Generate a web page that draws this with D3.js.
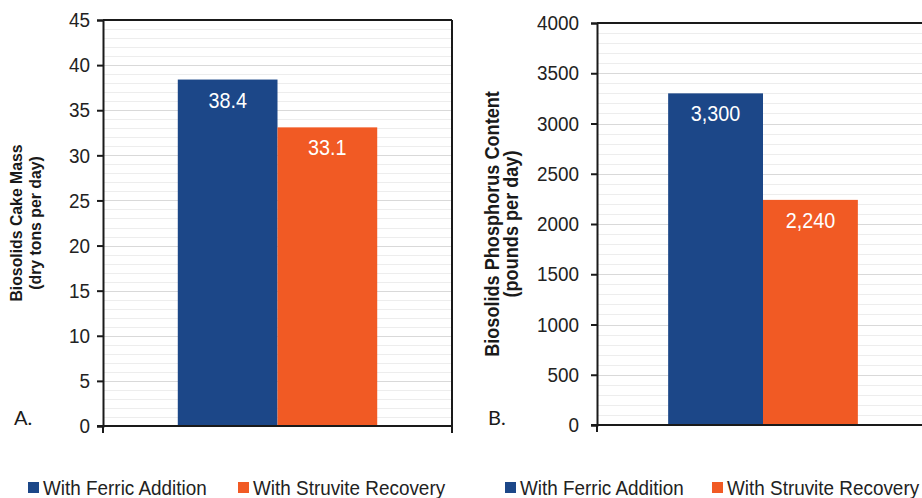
<!DOCTYPE html>
<html>
<head>
<meta charset="utf-8">
<script src="https://cdn.jsdelivr.net/npm/d3@7"></script>
<style>
  html, body { margin: 0; padding: 0; background: #fff; }
  svg { display: block; font-family: "Liberation Sans", Arial, sans-serif; }
</style>
</head>
<body>
<svg id="chart" width="922" height="498"></svg>
<script>
// Series shown in both panels
const seriesNames = ["With Ferric Addition", "With Struvite Recovery"];
const seriesColors = ["#1c4788", "#f15a24"];

// Panel A: biosolids cake mass (dry tons per day)
const cakeMass = [38.4, 33.1];
const cakeTicks = [0, 5, 10, 15, 20, 25, 30, 35, 40, 45];
const cakeLabels = ["38.4", "33.1"];

// Panel B: biosolids phosphorus content (pounds per day)
const phosphorus = [3300, 2240];
const phosphorusTicks = [0, 500, 1000, 1500, 2000, 2500, 3000, 3500, 4000];
const phosphorusLabels = ["3,300", "2,240"];

const svg = d3.select("#chart");

// Narrow the text horizontally around its anchor point (condensed look)
function squeeze(sel, s) {
  sel.each(function () {
    const t = d3.select(this);
    const x = +t.attr("x") || 0;
    const y = +t.attr("y") || 0;
    t.attr("x", 0).attr("y", 0)
     .attr("transform", `translate(${x},${y}) scale(${s},1)`);
  });
}

function panel(cfg) {
  const g = svg.append("g");
  const { x0, x1, y0, y1 } = cfg.plot;

  const y = d3.scaleLinear().domain([0, cfg.max]).range([y0, y1]);
  // single category group, Excel-style gap width of 150%
  const outer = d3.scaleBand().domain(["all"]).range([x0, x1])
    .paddingInner(0).paddingOuter(0.375);
  const inner = d3.scaleBand().domain(d3.range(cfg.values.length))
    .range([0, outer.bandwidth()]).padding(0);

  // minor gridlines
  const minor = d3.range(0, cfg.max + 1e-9, cfg.minorStep)
    .filter(v => !cfg.ticks.includes(v));
  g.append("g").selectAll("line").data(minor).join("line")
    .attr("x1", x0).attr("x2", x1)
    .attr("y1", d => Math.round(y(d)) + 0.5).attr("y2", d => Math.round(y(d)) + 0.5)
    .attr("stroke", "#ededed").attr("stroke-width", 1);

  // major gridlines
  g.append("g").selectAll("line").data(cfg.ticks.filter(v => v > 0 && v < cfg.max)).join("line")
    .attr("x1", x0).attr("x2", x1)
    .attr("y1", d => Math.round(y(d)) + 0.5).attr("y2", d => Math.round(y(d)) + 0.5)
    .attr("stroke", "#d9d9d9").attr("stroke-width", 1.2);

  // bars
  g.append("g").selectAll("rect").data(cfg.values).join("rect")
    .attr("x", (d, i) => outer("all") + inner(i))
    .attr("width", inner.bandwidth())
    .attr("y", d => y(d))
    .attr("height", d => y(0) - y(d))
    .attr("fill", (d, i) => seriesColors[i]);

  // value labels
  const vl = g.append("g").selectAll("text").data(cfg.values).join("text")
    .attr("x", (d, i) => outer("all") + inner(i) + inner.bandwidth() / 2)
    .attr("y", d => y(d) + 28)
    .attr("text-anchor", "middle")
    .attr("font-size", 22)
    .attr("fill", "#ffffff")
    .text((d, i) => cfg.labels[i]);
  squeeze(vl, 0.9);

  // frame: top and right borders
  g.append("line").attr("x1", x0).attr("x2", x1).attr("y1", y1).attr("y2", y1)
    .attr("stroke", "#1a1a1a").attr("stroke-width", 2);
  g.append("line").attr("x1", x1).attr("x2", x1).attr("y1", y1).attr("y2", y0 + 7)
    .attr("stroke", "#1a1a1a").attr("stroke-width", 2);

  // y axis
  const yAxis = d3.axisLeft(y).tickValues(cfg.ticks).tickSize(6).tickPadding(cfg.tickPad)
    .tickFormat(d3.format("d"));
  const ya = g.append("g").attr("transform", `translate(${x0},0)`).call(yAxis);
  ya.select(".domain").attr("stroke", "#1a1a1a").attr("stroke-width", 2);
  ya.selectAll(".tick line").attr("stroke", "#1a1a1a").attr("stroke-width", 2);
  const tt = ya.selectAll(".tick text").attr("font-size", 21).attr("fill", "#222")
    .attr("font-family", "'Liberation Sans', Arial, sans-serif");
  squeeze(tt, 0.9);

  // x axis with boundary ticks at the category edges
  const xa = g.append("g");
  xa.append("line").attr("x1", x0 - 6).attr("x2", x1).attr("y1", y0).attr("y2", y0)
    .attr("stroke", "#1a1a1a").attr("stroke-width", 2);
  xa.selectAll("line.edge").data(outer.range()).join("line").attr("class", "edge")
    .attr("x1", d => d).attr("x2", d => d).attr("y1", y0).attr("y2", y0 + 7)
    .attr("stroke", "#1a1a1a").attr("stroke-width", 2);

  // axis title, two lines, rotated
  const cy = (y0 + y1) / 2;
  cfg.title.forEach((t, i) => {
    g.append("text")
      .attr("transform", `translate(${cfg.titleX[i]},${cy}) rotate(-90) scale(0.93,1)`)
      .attr("text-anchor", "middle")
      .attr("font-size", cfg.titleSize)
      .attr("font-weight", "bold")
      .attr("fill", "#1a1a1a")
      .text(t);
  });

  // panel letter
  g.append("text").attr("x", cfg.letter.x).attr("y", cfg.letter.y)
    .attr("font-family", "Lato, 'Open Sans', sans-serif")
    .attr("font-size", 20).attr("fill", "#1a1a1a").text(cfg.letter.text);

  // legend
  const lg = g.append("g");
  seriesNames.forEach((name, i) => {
    lg.append("rect").attr("x", cfg.legend[i]).attr("y", 482)
      .attr("width", 11).attr("height", 11).attr("fill", seriesColors[i]);
    const lt = lg.append("text").attr("x", cfg.legend[i] + 15).attr("y", 495)
      .attr("font-size", 21).attr("fill", "#222").text(name);
    squeeze(lt, 0.9);
  });
}

panel({
  plot: { x0: 103, x1: 452, y0: 426, y1: 20 },
  max: 45, minorStep: 1,
  values: cakeMass, labels: cakeLabels, ticks: cakeTicks, tickPad: 7,
  title: ["Biosolids Cake Mass", "(dry tons per day)"], titleX: [22, 41], titleSize: 17,
  letter: { text: "A.", x: 14, y: 425 },
  legend: [28, 238]
});

panel({
  plot: { x0: 597, x1: 929, y0: 425, y1: 23 },
  max: 4000, minorStep: 100,
  values: phosphorus, labels: phosphorusLabels, ticks: phosphorusTicks, tickPad: 12,
  title: ["Biosolids Phosphorus Content", "(pounds per day)"], titleX: [499, 518], titleSize: 19.5,
  letter: { text: "B.", x: 488, y: 425 },
  legend: [505, 712]
});
</script>
</body>
</html>
